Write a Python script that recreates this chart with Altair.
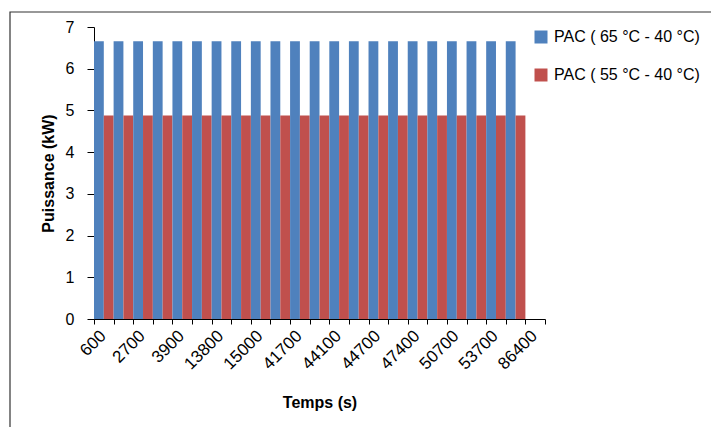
import altair as alt
import pandas as pd

# Categories of the x axis (every second label is shown in the reference)
categories = ["600", "1800", "2700", "3300", "3900", "13200", "13800", "14400",
              "15000", "41100", "41700", "42900", "44100", "44400", "44700",
              "46200", "47400", "49500", "50700", "52200", "53700", "70000", "86400"]
shown_labels = ["600", "2700", "3900", "13800", "15000", "41700", "44100",
                "44700", "47400", "50700", "53700", "86400"]

series_names = ["PAC ( 65 °C - 40 °C)", "PAC ( 55 °C - 40 °C)"]
series_colors = ["#4F81BD", "#C0504D"]

# values (kW) for the first 22 time steps; 86400 has no bar
pac_65 = [6.66, 6.66, 6.66, 6.66, 6.66, 6.66, 6.66, 6.66, 6.66, 6.66, 6.66,
          6.66, 6.66, 6.66, 6.66, 6.66, 6.66, 6.66, 6.66, 6.66, 6.66, 6.66]
pac_55 = [4.88, 4.88, 4.88, 4.88, 4.88, 4.88, 4.88, 4.88, 4.88, 4.88, 4.88,
          4.88, 4.88, 4.88, 4.88, 4.88, 4.88, 4.88, 4.88, 4.88, 4.88, 4.88]

rows = []
for i, (a, b) in enumerate(zip(pac_65, pac_55)):
    rows.append({"Temps": categories[i], "Série": series_names[0], "Puissance": a})
    rows.append({"Temps": categories[i], "Série": series_names[1], "Puissance": b})
df = pd.DataFrame(rows)

FONT = "Liberation Sans"
label_array = "[" + ",".join("'" + s + "'" for s in shown_labels) + "]"
label_expr = f"indexof({label_array}, datum.value) >= 0 ? datum.value : ''"

bars = alt.Chart(df).mark_bar().encode(
    x=alt.X("Temps:N",
            scale=alt.Scale(domain=categories, paddingInner=0, paddingOuter=0),
            axis=alt.Axis(title="Temps (s)", labelAngle=-45, labelAlign="right",
                          labelBaseline="middle", labelExpr=label_expr,
                          tickBand="extent", tickSize=5, labelPadding=9,
                          labelOffset=-1, labelFontSize=17, titleFontSize=16,
                          titleFontWeight="bold", titlePadding=22,
                          labelOverlap=False)),
    xOffset=alt.XOffset("Série:N",
                        scale=alt.Scale(domain=series_names, paddingInner=0, paddingOuter=0)),
    y=alt.Y("Puissance:Q",
            scale=alt.Scale(domain=[0, 7], nice=False),
            axis=alt.Axis(title="Puissance (kW)", values=[0, 1, 2, 3, 4, 5, 6, 7],
                          grid=False, tickSize=7, labelPadding=13, labelFontSize=16,
                          titleFontSize=16, titleFontWeight="bold", titlePadding=9)),
    color=alt.Color("Série:N",
                    scale=alt.Scale(domain=series_names, range=series_colors),
                    legend=alt.Legend(title=None, orient="none", legendX=439, legendY=2,
                                      symbolType="square", symbolSize=169,
                                      symbolStrokeWidth=0, labelFontSize=16,
                                      labelOffset=5, rowPadding=22, padding=0,
                                      labelLimit=300)),
)

frame_df = pd.DataFrame({"k": [0]})
frame = alt.Chart(frame_df).mark_rect(fill=None, stroke="#333333", strokeWidth=1.2).encode(
    x=alt.value(-84), x2=alt.value(700), y=alt.value(-15), y2=alt.value(500)
)

chart = alt.layer(frame, bars).properties(
    width=451, height=292,
    autosize=alt.AutoSizeParams(type="none"),
    padding={"left": 86, "top": 19, "right": 166, "bottom": 108},
).configure_view(stroke=None).configure_axis(
    domainColor="black", tickColor="black", labelColor="black", titleColor="black",
    labelFont=FONT, titleFont=FONT, domainWidth=1, tickWidth=1
).configure_legend(labelFont=FONT, labelColor="black")

chart.save("out.html", embed_options={"renderer": "svg", "actions": False})
